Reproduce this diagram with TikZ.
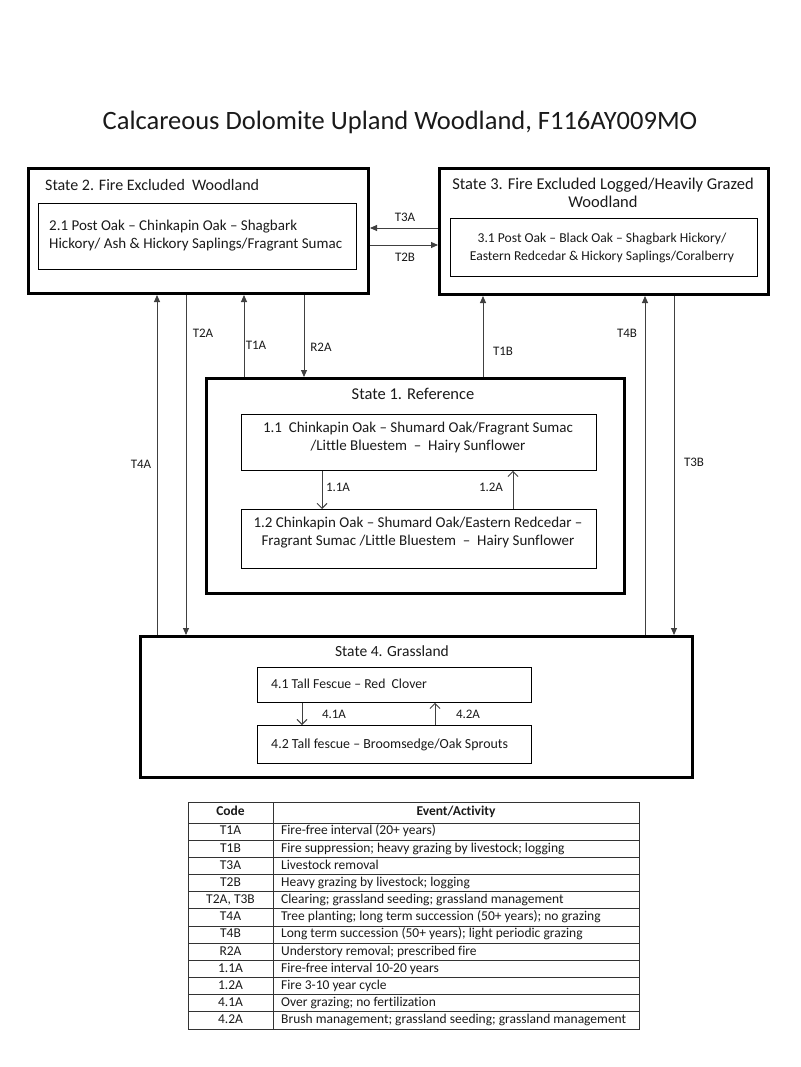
\documentclass[tikz,border=0pt]{standalone}
\usepackage{fontspec}
\setmainfont{Carlito}[Ligatures=NoCommon]
\usetikzlibrary{arrows.meta}
\definecolor{ink}{HTML}{1A1A1A}
\definecolor{conn}{HTML}{404040}
\begin{document}
\begin{tikzpicture}[x=1pt,y=-1pt,
  outerbox/.style={draw=black, line width=3pt, inner sep=0pt, anchor=north west},
  innerbox/.style={draw=black, line width=0.9pt, inner sep=0pt, anchor=north west},
  tr/.style={draw=conn, line width=0.9pt, -{Triangle[length=7pt,width=6pt]}},
  ob/.style={draw=conn, line width=0.9pt, -{Straight Barb[length=5pt,width=10pt]}},
  lbl/.style={text=ink, inner sep=0pt, text height=9pt, text depth=2.5pt, font=\fontsize{13}{15}\selectfont},
  stt/.style={text=ink, inner sep=0pt, font=\fontsize{16.5}{18}\selectfont},
  txt/.style={text=ink, inner sep=0pt, font=\fontsize{15}{18}\selectfont},
  tab/.style={text=ink, inner sep=0pt, text height=9.5pt, text depth=3pt, font=\fontsize{13.5}{15}\selectfont},
  tline/.style={draw=black!80, line width=0.8pt}]
\useasboundingbox (0,0) rectangle (800,1067);
\fill[white] (0,0) rectangle (800,1067);

% title
\node[text=ink, inner sep=0pt, font=\fontsize{26.5}{30}\selectfont] (title) at (400,122) {Calcareous Dolomite Upland Woodland, F116AY009MO};

% State 2
\node[outerbox, minimum width=340pt, minimum height=125pt] (s2) at (27,167) {};
\node[stt, anchor=west, font=\fontsize{16}{18}\selectfont] (s2t) at (45,185) {State 2. Fire Excluded\ \ Woodland};
\node[innerbox, minimum width=318pt, minimum height=66pt] (p21) at (38,203) {};
\node[txt, anchor=west, align=left] (p21t) at (49,236) {2.1 Post Oak – Chinkapin Oak – Shagbark\\Hickory/ Ash \& Hickory Saplings/Fragrant Sumac};

% State 3
\node[outerbox, minimum width=329pt, minimum height=126pt] (s3) at (438,167) {};
\node[stt, align=center] (s3t) at (603,193) {State 3. Fire Excluded Logged/Heavily Grazed\\Woodland};
\node[innerbox, minimum width=307pt, minimum height=58pt] (p31) at (450,218) {};
\node[txt, align=center, font=\fontsize{13.6}{18}\selectfont] (p31t) at (602,248) {3.1 Post Oak – Black Oak – Shagbark Hickory/\\Eastern Redcedar \& Hickory Saplings/Coralberry};

% State 1
\node[outerbox, minimum width=418pt, minimum height=215pt] (s1) at (205,377) {};
\node[stt] (s1t) at (413,394) {State 1. Reference};
\node[innerbox, minimum width=355pt, minimum height=56pt] (p11) at (241,414) {};
\node[txt, align=center] (p11t) at (418,437) {1.1\ \ Chinkapin Oak – Shumard Oak/Fragrant Sumac\\/Little Bluestem\ \ –\ \ Hairy Sunflower};
\node[innerbox, minimum width=355pt, minimum height=59pt] (p12) at (241,509) {};
\node[txt, align=center] (p12t) at (418,533) {1.2 Chinkapin Oak – Shumard Oak/Eastern Redcedar –\\Fragrant Sumac /Little Bluestem\ \ –\ \ Hairy Sunflower};

% State 4
\node[outerbox, minimum width=552pt, minimum height=141pt] (s4) at (139,635) {};
\node[stt, font=\fontsize{15.5}{18}\selectfont] (s4t) at (392,651) {State 4. Grassland};
\node[innerbox, minimum width=274pt, minimum height=35pt] (p41) at (257,667) {};
\node[txt, anchor=west, font=\fontsize{13.7}{18}\selectfont] (p41t) at (271,684) {4.1 Tall Fescue – Red\ \ Clover};
\node[innerbox, minimum width=274pt, minimum height=38pt] (p42) at (257,725) {};
\node[txt, anchor=west, font=\fontsize{13.9}{18}\selectfont] (p42t) at (271,745) {4.2 Tall fescue – Broomsedge/Oak Sprouts};

% transitions between states
\draw[tr] (s3.west |- 0,228) -- (s2.east |- 0,228);
\node[lbl] (lT3A) at (405,218) {T3A};
\draw[tr] (s2.east |- 0,245) -- (s3.west |- 0,245);
\node[lbl] (lT2B) at (405,258) {T2B};

\draw[tr] (s4.north -| 157,0) -- (s2.south -| 157,0);
\node[lbl] (lT4A) at (141,465) {T4A};
\draw[tr] (s2.south -| 186,0) -- (s4.north -| 186,0);
\node[lbl] (lT2A) at (203,334) {T2A};
\draw[tr] (s1.north -| 244,0) -- (s2.south -| 244,0);
\node[lbl] (lT1A) at (256,346) {T1A};
\draw[tr] (s2.south -| 304,0) -- (s1.north -| 304,0);
\node[lbl] (lR2A) at (321,348) {R2A};
\draw[tr] (s1.north -| 483,0) -- (s3.south -| 483,0);
\node[lbl] (lT1B) at (503,352) {T1B};
\draw[tr] (s4.north -| 645,0) -- (s3.south -| 645,0);
\node[lbl] (lT4B) at (627,334) {T4B};
\draw[tr] (s3.south -| 674,0) -- (s4.north -| 674,0);
\node[lbl] (lT3B) at (694,463) {T3B};

% community pathways
\draw[ob] (p11.south -| 322,0) -- (p12.north -| 322,0);
\node[lbl] (l11A) at (338,488) {1.1A};
\draw[ob] (p12.north -| 513,0) -- (p11.south -| 513,0);
\node[lbl] (l12A) at (491,488) {1.2A};
\draw[ob] (p41.south -| 302,0) -- (p42.north -| 302,0);
\node[lbl] (l41A) at (334,715) {4.1A};
\draw[ob] (p42.north -| 435,0) -- (p41.south -| 435,0);
\node[lbl] (l42A) at (468,715) {4.2A};

% table
\draw[tline] (188,802) rectangle (639,1029);
\draw[tline] (273,802) -- (273,1029);
\foreach \k in {0,...,11} {
  \draw[tline] (188,823+17.1667*\k) -- (639,823+17.1667*\k);
}
\node[tab, font=\bfseries\fontsize{13.5}{15}\selectfont] (hcode) at (230.5,812.5) {Code};
\node[tab, font=\bfseries\fontsize{13.5}{15}\selectfont] (hevent) at (456,812.5) {Event/Activity};
\foreach \c/\e [count=\i] in {
  T1A/Fire-free interval (20+ years),
  T1B/Fire suppression; heavy grazing by livestock; logging,
  T3A/Livestock removal,
  T2B/Heavy grazing by livestock; logging,
  {T2A, T3B}/Clearing; grassland seeding; grassland management,
  T4A/Tree planting; long term succession (50+ years); no grazing,
  T4B/Long term succession (50+ years); light periodic grazing,
  R2A/Understory removal; prescribed fire,
  1.1A/Fire-free interval 10-20 years,
  1.2A/Fire 3-10 year cycle,
  4.1A/Over grazing; no fertilization,
  4.2A/Brush management; grassland seeding; grassland management} {
  \node[tab] (c\i) at (230.5,823+17.1667*\i-8.58) {\c};
  \node[tab, anchor=west] (e\i) at (281,823+17.1667*\i-8.58) {\e};
}
\end{tikzpicture}
\end{document}
